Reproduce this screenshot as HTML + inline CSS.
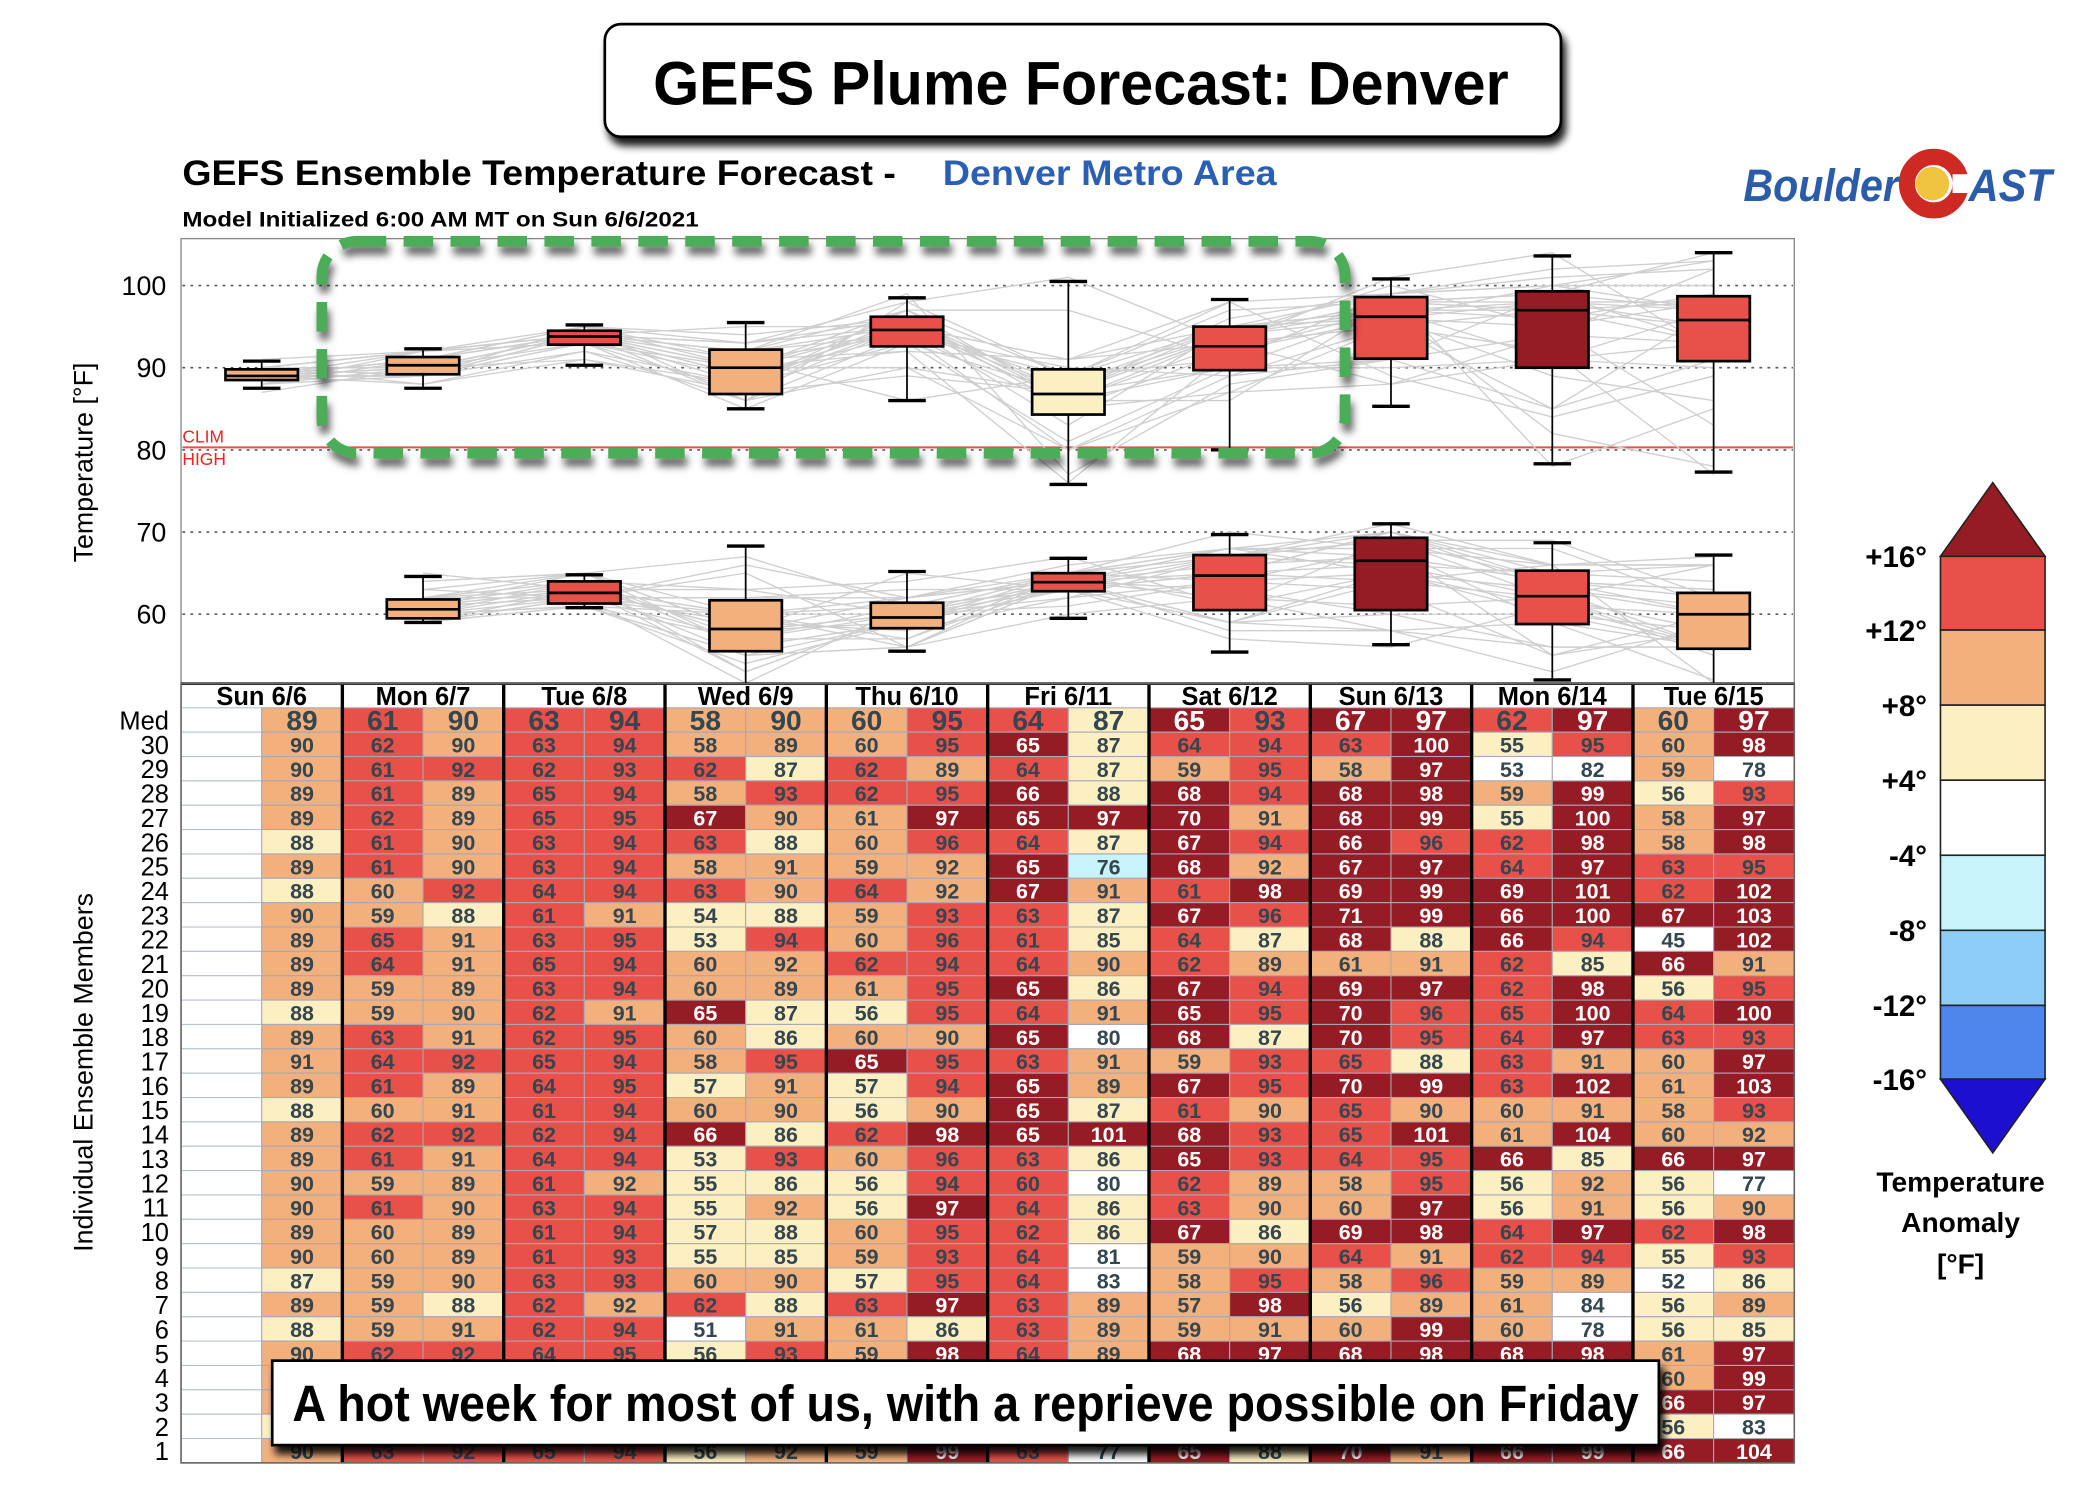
<!DOCTYPE html>
<html><head><meta charset="utf-8"><style>
html,body{margin:0;padding:0;background:#fff;width:2092px;height:1488px;overflow:hidden}
svg{display:block}
</style></head><body>
<svg id="s" xmlns="http://www.w3.org/2000/svg" width="2092" height="1488" viewBox="0 0 1560 1110" preserveAspectRatio="none" font-family="Liberation Sans, sans-serif">
<defs>
<filter id="sh" x="-5%" y="-20%" width="115%" height="160%"><feGaussianBlur in="SourceAlpha" stdDeviation="3"/><feOffset dx="3" dy="6"/><feComponentTransfer><feFuncA type="linear" slope="0.9"/></feComponentTransfer><feMerge><feMergeNode/><feMergeNode in="SourceGraphic"/></feMerge></filter>
</defs>
<g id="plot"></g>
<g id="tbl"></g>
<!-- title box -->
<rect x="451" y="18" width="713" height="84" rx="12" fill="#fff" stroke="#000" stroke-width="2" filter="url(#sh)"/>
<text x="806" y="78" text-anchor="middle" font-family="Liberation Sans Narrow, Liberation Sans, sans-serif" font-weight="bold" font-size="46" textLength="638" lengthAdjust="spacingAndGlyphs">GEFS Plume Forecast: Denver</text>
<text x="136" y="138" font-weight="bold" font-size="26" textLength="532" lengthAdjust="spacingAndGlyphs">GEFS Ensemble Temperature Forecast -</text>
<text x="703" y="138" font-weight="bold" font-size="26" fill="#2b5fb4" textLength="249" lengthAdjust="spacingAndGlyphs">Denver Metro Area</text>
<text x="136" y="169" font-weight="bold" font-size="16" textLength="385" lengthAdjust="spacingAndGlyphs">Model Initialized 6:00 AM MT on Sun 6/6/2021</text>
<!-- logo -->
<text x="1300" y="150" font-weight="bold" font-style="italic" font-size="34" fill="#2a5caa" textLength="116" lengthAdjust="spacingAndGlyphs">Boulder</text>
<circle cx="1442" cy="137" r="20" fill="none" stroke="#cc2a22" stroke-width="12"/>
<rect x="1456" y="130" width="14" height="14" fill="#fff"/>
<circle cx="1441" cy="137" r="12.5" fill="#efc53f"/>
<text x="1468" y="150" font-weight="bold" font-style="italic" font-size="34" fill="#2a5caa" textLength="62" lengthAdjust="spacingAndGlyphs">AST</text>
<!-- legend -->
<g stroke="#222" stroke-width="1.2">
<polygon points="1486,360 1525,415 1447,415" fill="#951c25"/>
<rect x="1447" y="415" width="78" height="55" fill="#e8504a"/>
<rect x="1447" y="470" width="78" height="56" fill="#f2b07d"/>
<rect x="1447" y="526" width="78" height="56" fill="#fcefc2"/>
<rect x="1447" y="582" width="78" height="56" fill="#fff"/>
<rect x="1447" y="638" width="78" height="56" fill="#c7f3fb"/>
<rect x="1447" y="694" width="78" height="56" fill="#8dcdf8"/>
<rect x="1447" y="750" width="78" height="55" fill="#4f86ee"/>
<polygon points="1447,805 1525,805 1486,860" fill="#1c0fd0"/>
</g>
<g font-weight="bold" font-size="22" text-anchor="end">
<text x="1437" y="423">+16°</text><text x="1437" y="478">+12°</text><text x="1437" y="534">+8°</text><text x="1437" y="590">+4°</text>
<text x="1437" y="646">-4°</text><text x="1437" y="702">-8°</text><text x="1437" y="758">-12°</text><text x="1437" y="813">-16°</text>
</g>
<g font-weight="bold" font-size="21" text-anchor="middle">
<text x="1462" y="889">Temperature</text><text x="1462" y="919">Anomaly</text><text x="1462" y="950">[°F]</text>
</g>
<text transform="translate(69,345) rotate(-90)" text-anchor="middle" font-size="20">Temperature [°F]</text>
<text transform="translate(69,800) rotate(-90)" text-anchor="middle" font-size="20">Individual Ensemble Members</text>
<!-- green dashed -->
<rect x="240" y="180" width="763" height="158" rx="26" fill="none" stroke="#000" stroke-opacity="0.6" stroke-width="8" stroke-dasharray="22 13" transform="translate(2,6)" style="filter:blur(3px)"/>
<rect x="240" y="180" width="763" height="158" rx="26" fill="none" stroke="#4bad57" stroke-width="8" stroke-dasharray="22 13"/>
<!-- caption -->
<rect x="203" y="1015" width="1034" height="63" fill="#fff" stroke="#000" stroke-width="2" filter="url(#sh)"/>
<text x="720" y="1060" text-anchor="middle" font-family="Liberation Sans Narrow, Liberation Sans, sans-serif" font-weight="bold" font-size="38" textLength="1004" lengthAdjust="spacingAndGlyphs">A hot week for most of us, with a reprieve possible on Friday</text>
</svg>
<script>
var NS="http://www.w3.org/2000/svg";
function el(p,t,a,txt){var e=document.createElementNS(NS,t);for(var k in a)e.setAttribute(k,a[k]);if(txt!=null)e.textContent=txt;p.appendChild(e);return e;}
var C={d:"#951c25",r:"#e8504a",o:"#f2b07d",y:"#fcefc2",w:"#ffffff",b:"#c7f3fb"};
var rows=[
["Med",89,61,90,63,94,58,90,60,95,64,87,65,93,67,97,62,97,60,97],
[30,90,62,90,63,94,58,89,60,95,65,87,64,94,63,100,55,95,60,98],
[29,90,61,92,62,93,62,87,62,89,64,87,59,95,58,97,53,82,59,78],
[28,89,61,89,65,94,58,93,62,95,66,88,68,94,68,98,59,99,56,93],
[27,89,62,89,65,95,67,90,61,97,65,97,70,91,68,99,55,100,58,97],
[26,88,61,90,63,94,63,88,60,96,64,87,67,94,66,96,62,98,58,98],
[25,89,61,90,63,94,58,91,59,92,65,76,68,92,67,97,64,97,63,95],
[24,88,60,92,64,94,63,90,64,92,67,91,61,98,69,99,69,101,62,102],
[23,90,59,88,61,91,54,88,59,93,63,87,67,96,71,99,66,100,67,103],
[22,89,65,91,63,95,53,94,60,96,61,85,64,87,68,88,66,94,45,102],
[21,89,64,91,65,94,60,92,62,94,64,90,62,89,61,91,62,85,66,91],
[20,89,59,89,63,94,60,89,61,95,65,86,67,94,69,97,62,98,56,95],
[19,88,59,90,62,91,65,87,56,95,64,91,65,95,70,96,65,100,64,100],
[18,89,63,91,62,95,60,86,60,90,65,80,68,87,70,95,64,97,63,93],
[17,91,64,92,65,94,58,95,65,95,63,91,59,93,65,88,63,91,60,97],
[16,89,61,89,64,95,57,91,57,94,65,89,67,95,70,99,63,102,61,103],
[15,88,60,91,61,94,60,90,56,90,65,87,61,90,65,90,60,91,58,93],
[14,89,62,92,62,94,66,86,62,98,65,101,68,93,65,101,61,104,60,92],
[13,89,61,91,64,94,53,93,60,96,63,86,65,93,64,95,66,85,66,97],
[12,90,59,89,61,92,55,86,56,94,60,80,62,89,58,95,56,92,56,77],
[11,90,61,90,63,94,55,92,56,97,64,86,63,90,60,97,56,91,56,90],
[10,89,60,89,61,94,57,88,60,95,62,86,67,86,69,98,64,97,62,98],
[9,90,60,89,61,93,55,85,59,93,64,81,59,90,64,91,62,94,55,93],
[8,87,59,90,63,93,60,90,57,95,64,83,58,95,58,96,59,89,52,86],
[7,89,59,88,62,92,62,88,63,97,63,89,57,98,56,89,61,84,56,89],
[6,88,59,91,62,94,51,91,61,86,63,89,59,91,60,99,60,78,56,85],
[5,90,62,92,64,95,56,93,59,98,64,89,68,97,68,98,68,98,61,97],
[4,89,60,90,63,94,58,92,60,95,64,88,66,95,67,97,64,96,60,99],
[3,89,61,91,62,94,57,90,61,96,63,87,65,94,66,98,65,99,66,97],
[2,88,60,89,62,93,59,89,58,94,62,85,64,92,65,96,63,95,56,83],
[1,90,63,92,65,94,56,92,59,99,63,77,65,88,70,91,66,99,66,104]];
var LT=[null,[53,58,61,66],[53,58,61,66],[53,58,62,65],[53,58,62,65],[53,58,60,65],[53,57,61,65],[53,57,62,66],[54,58,62,66],[53,58,62,65]];
function lowC(d,v){var t=LT[d];return v>=t[3]?"d":v>=t[2]?"r":v>=t[1]?"o":v>=t[0]?"y":"w";}
function highC(d,v){var red=(d==1)?92:93;return v>=97?"d":v>=red?"r":v>=89?"o":v>=85?"y":v>=77?"w":"b";}
var X0=135,DW=120.3,Y0=528,RH=18.17;
var T=document.getElementById("tbl"),P=document.getElementById("plot");
function yT(t){return 213+(100-t)*6.13;}
// plot
el(P,"rect",{x:135,y:178,width:1203,height:332,fill:"#fff",stroke:"#888","stroke-width":1});
[100,90,80,70,60].forEach(function(t){el(P,"line",{x1:136,x2:1337,y1:yT(t),y2:yT(t),stroke:"#555","stroke-width":1.2,"stroke-dasharray":"2 4"});
el(P,"text",{x:124,y:yT(t)+7,"text-anchor":"end","font-size":20},t);});
el(P,"line",{x1:136,x2:1337,y1:yT(80.3),y2:yT(80.3),stroke:"#e8504a","stroke-width":1.5});
el(P,"text",{x:136,y:330,"font-size":13,fill:"#e22"},"CLIM");
el(P,"text",{x:136,y:347,"font-size":13,fill:"#e22"},"HIGH");
function cx(d){return X0+DW*d+DW/2;}
var sp=el(P,"g",{stroke:"#cfcfcf","stroke-width":1,fill:"none"});
for(var r=1;r<rows.length;r++){var R=rows[r];var ph=[],pl=[];
 ph.push(cx(0)+","+yT(R[1]));
 for(var d=1;d<10;d++){ph.push(cx(d)+","+yT(R[2*d+1]));pl.push(cx(d)+","+yT(Math.max(R[2*d],51.6)));}
 el(sp,"polyline",{points:ph.join(" ")});el(sp,"polyline",{points:pl.join(" ")});}
var HB=[[87.5,88.5,89,89.8,90.8,"o"],[87.5,89.2,90.3,91.3,92.3,"o"],[90.3,92.8,93.8,94.5,95.2,"r"],[85,86.8,90,92.2,95.5,"o"],[86,92.6,94.6,96.2,98.5,"r"],[75.8,84.3,86.8,89.8,100.5,"y"],[80,89.7,92.6,95,98.3,"r"],[85.3,91.1,96.2,98.6,100.8,"r"],[78.3,90,97,99.3,103.6,"d"],[77.3,90.8,95.8,98.7,104,"r"]];
var LB=[null,[59,59.5,60.6,61.8,64.6,"o"],[60.8,61.3,62.6,64,64.8,"r"],[51.6,55.5,58.2,61.7,68.3,"o"],[55.5,58.3,59.6,61.4,65.2,"o"],[59.5,62.8,63.9,65,66.8,"r"],[55.4,60.5,64.7,67.2,69.7,"r"],[56.3,60.5,66.5,69.3,71,"d"],[52,58.8,62.2,65.3,68.7,"r"],[51.6,55.8,60,62.6,67.2,"o"]];
function box(d,b){if(!b)return;var x=cx(d);
 el(P,"line",{x1:x,x2:x,y1:yT(b[0]),y2:yT(b[4]),stroke:"#000","stroke-width":1.3});
 if(b[0]>51.7)el(P,"line",{x1:x-14,x2:x+14,y1:yT(b[0]),y2:yT(b[0]),stroke:"#000","stroke-width":2.5});
 el(P,"line",{x1:x-14,x2:x+14,y1:yT(b[4]),y2:yT(b[4]),stroke:"#000","stroke-width":2.5});
 el(P,"rect",{x:x-27,y:yT(b[3]),width:54,height:yT(b[1])-yT(b[3]),fill:C[b[5]],stroke:"#000","stroke-width":2});
 el(P,"line",{x1:x-27,x2:x+27,y1:yT(b[2]),y2:yT(b[2]),stroke:"#000","stroke-width":2});}
for(var d=0;d<10;d++){box(d,HB[d]);box(d,LB[d]);}
// table
var days=["Sun 6/6","Mon 6/7","Tue 6/8","Wed 6/9","Thu 6/10","Fri 6/11","Sat 6/12","Sun 6/13","Mon 6/14","Tue 6/15"];
el(T,"rect",{x:135,y:510,width:1203,height:Y0+31*RH-510,fill:"#fff"});
for(var d=0;d<10;d++)el(T,"text",{x:cx(d),y:526,"text-anchor":"middle","font-weight":"bold","font-size":19},days[d]);
for(var r=0;r<rows.length;r++){var R=rows[r];var y=Y0+r*RH;var med=r==0;
 el(T,"text",{x:126,y:y+RH-2,"text-anchor":"end","font-size":med?19:19},R[0]);
 for(var d=0;d<10;d++){for(var k=0;k<2;k++){var x=X0+DW*d+k*DW/2;
   if(d==0&&k==0){el(T,"rect",{x:x,y:y,width:DW/2,height:RH,fill:"#fff",stroke:"#b8c0cc","stroke-width":0.8});continue;}
   var v=(d==0)?R[1]:R[2*d+k];var c=(k==0)?lowC(d,v):highC(d,v);
   el(T,"rect",{x:x,y:y,width:DW/2,height:RH,fill:C[c],stroke:"#a8a8b8","stroke-width":0.8});
   el(T,"text",{x:x+DW/4,y:y+RH-(med?1.5:3),"text-anchor":"middle","font-weight":"bold","font-family":"Liberation Sans Narrow, Liberation Sans, sans-serif","font-size":med?21:16,fill:c=="d"?"#fff":"#34464f"},v);}}}
for(var d=1;d<10;d++){var x=X0+DW*d;el(T,"line",{x1:x,x2:x,y1:510,y2:Y0+31*RH,stroke:"#000","stroke-width":2.5});}
el(T,"line",{x1:135,x2:1338,y1:510,y2:510,stroke:"#000","stroke-width":2});
el(T,"rect",{x:135,y:510,width:1203,height:Y0+31*RH-510,fill:"none",stroke:"#666","stroke-width":1.2});
</script>
</body></html>
